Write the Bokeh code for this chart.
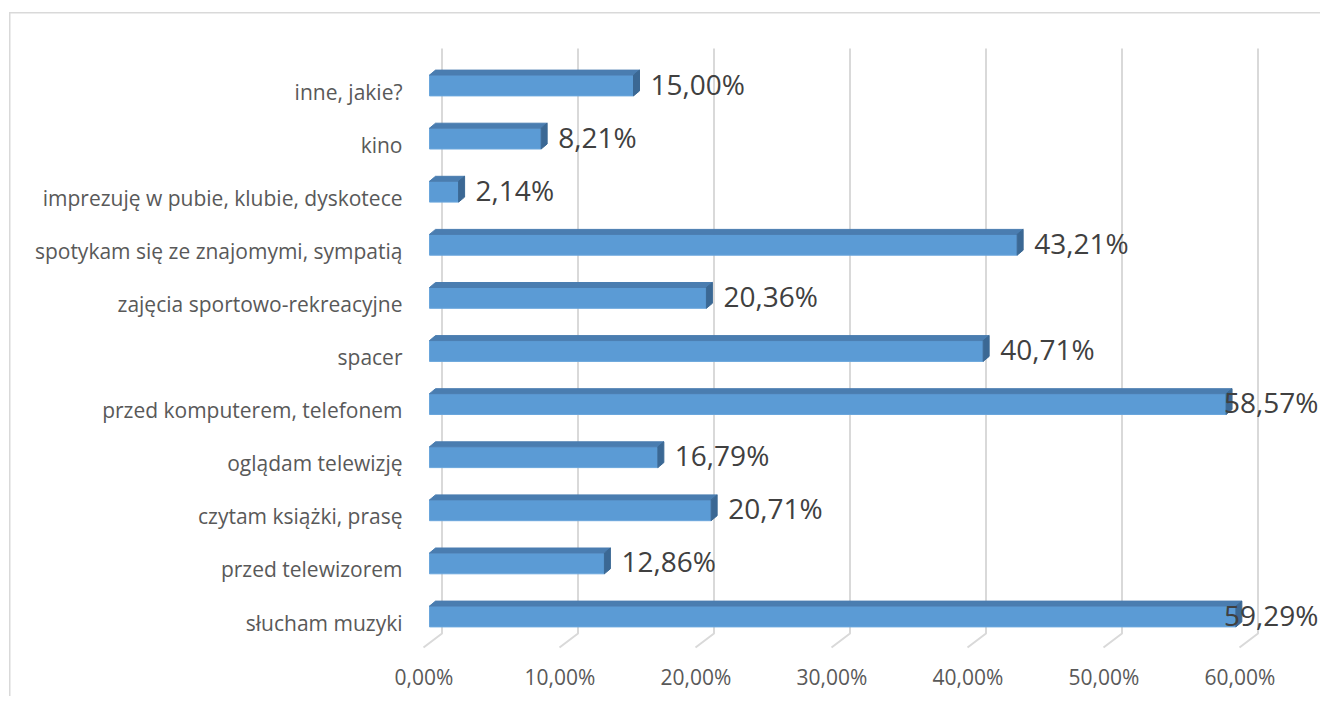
from bokeh.plotting import figure
from bokeh.models import FixedTicker, Range1d, ColumnDataSource
from bokeh.core.properties import value
from bokeh.embed import file_html
from bokeh.resources import INLINE

# ---- data -------------------------------------------------------------
categories = [
    "słucham muzyki",
    "przed telewizorem",
    "czytam książki, prasę",
    "oglądam telewizję",
    "przed komputerem, telefonem",
    "spacer",
    "zajęcia sportowo-rekreacyjne",
    "spotykam się ze znajomymi, sympatią",
    "imprezuję w pubie, klubie, dyskotece",
    "kino",
    "inne, jakie?",
]
values = [59.29, 12.86, 20.71, 16.79, 58.57, 40.71, 20.36, 43.21, 2.14, 8.21, 15.00]
value_labels = ["59,29%", "12,86%", "20,71%", "16,79%", "58,57%", "40,71%",
                "20,36%", "43,21%", "2,14%", "8,21%", "15,00%"]
x_ticks = [0, 10, 20, 30, 40, 50, 60]
x_tick_labels = ["0,00%", "10,00%", "20,00%", "30,00%", "40,00%", "50,00%", "60,00%"]

# ---- layout constants (canvas pixels) -----------------------------------
W, H = 1320, 696
FL, FR, FT, FB = 415, 1320, 20, 650          # frame edges
PX_PER_X = 13.6                              # px per percent
PX_PER_Y = 53.1                              # px per category
X_ORIGIN = 423.5                             # px of x = 0 (tick label centre)
Y_ORIGIN = 622.0                             # px of y = 0 (category label)

x_start = (FL - X_ORIGIN) / PX_PER_X
x_end = (FR - X_ORIGIN) / PX_PER_X
y_start = (Y_ORIGIN - FB) / PX_PER_Y
y_end = (Y_ORIGIN - FT) / PX_PER_Y


def dx(px):
    return px / PX_PER_X


def dy(px):
    return px / PX_PER_Y


def ypx(py):
    """canvas y pixel -> data y"""
    return (Y_ORIGIN - py) / PX_PER_Y


p = figure(width=W, height=H, output_backend="svg", toolbar_location=None,
           x_range=Range1d(x_start, x_end), y_range=Range1d(y_start, y_end),
           min_border_left=FL, min_border_right=W - FR,
           min_border_top=FT, min_border_bottom=H - FB)
p.outline_line_color = None
p.xgrid.visible = False
p.ygrid.visible = False
p.background_fill_color = None
p.border_fill_color = None
# chart-area border: only its left and top edges fall inside the window
p.styles = {
    "background": "linear-gradient(#d9d9d9, #d9d9d9) 9px 12px / 1.5px 100% no-repeat, "
                  "linear-gradient(#d9d9d9, #d9d9d9) 9px 12px / 100% 1.5px no-repeat, "
                  "#ffffff"
}

# ---- 3D gridlines (back wall + floor diagonals) ------------------------
GRID_BACK = dx(18)
GRID_FRONT = dx(-0.5)
gx, gy = [], []
for t in x_ticks:
    gx.append([t + GRID_BACK, t + GRID_BACK, t + GRID_FRONT])
    gy.append([ypx(48), ypx(633), ypx(647)])
p.multi_line(gx, gy, line_color="#d9d9d9", line_width=2)

# ---- 3D bars ------------------------------------------------------------
BAR_X0 = dx(5.5)          # front face starts 5.5px right of x=0 label centre
BAR_YOFF = dy(6)          # bar centre sits 6px above category label
BAR_HH = dy(10.4)
DEPTH_X, DEPTH_Y = dx(6), dy(5)

front = dict(left=[], right=[], bottom=[], top=[])
top_xs, top_ys, side_xs, side_ys = [], [], [], []
lab_x, lab_y, lab_t, lab_al = [], [], [], []
for i, (v, t) in enumerate(zip(values, value_labels)):
    x0 = BAR_X0
    x1 = v + BAR_X0
    yc = i + BAR_YOFF
    b, tp = yc - BAR_HH, yc + BAR_HH
    front["left"].append(x0)
    front["right"].append(x1)
    front["bottom"].append(b)
    front["top"].append(tp)
    top_xs.append([x0, x0 + DEPTH_X, x1 + DEPTH_X, x1])
    top_ys.append([tp, tp + DEPTH_Y, tp + DEPTH_Y, tp])
    side_xs.append([x1, x1 + DEPTH_X, x1 + DEPTH_X, x1])
    side_ys.append([tp, tp + DEPTH_Y, b + DEPTH_Y, b])
    end_px = X_ORIGIN + x1 * PX_PER_X
    if end_px + 17 + 96 > FR - 2:
        lab_x.append(dx(FR - 2 - X_ORIGIN))
        lab_al.append("right")
    else:
        lab_x.append(x1 + dx(17))
        lab_al.append("left")
    lab_y.append(yc + dy(2))
    lab_t.append(t)

p.quad(source=ColumnDataSource(front), left="left", right="right", bottom="bottom",
       top="top", fill_color="#5b9bd5", line_color="#6aa6dc", line_width=1)
p.patches(top_xs, top_ys, fill_color="#4a7db0", line_color="#4a7db0", line_width=1)
p.patches(side_xs, side_ys, fill_color="#3b6894", line_color="#3b6894", line_width=1)

src = ColumnDataSource(dict(x=lab_x, y=lab_y, t=lab_t, al=lab_al))
p.text(x="x", y="y", text="t", source=src, text_align="al", text_baseline="middle",
       text_font=value("Open Sans"), text_font_size="28px", text_color="#404040")

# ---- axes ---------------------------------------------------------------
p.yaxis.ticker = FixedTicker(ticks=list(range(len(categories))))
p.yaxis.major_label_overrides = {i: c for i, c in enumerate(categories)}
p.yaxis.axis_line_color = None
p.yaxis.major_tick_line_color = None
p.yaxis.minor_tick_line_color = None
p.yaxis.major_label_standoff = 7
p.yaxis.major_label_text_font = "Open Sans"
p.yaxis.major_label_text_font_size = "21px"
p.yaxis.major_label_text_color = "#595959"

p.xaxis.ticker = FixedTicker(ticks=x_ticks)
p.xaxis.major_label_overrides = {t: l for t, l in zip(x_ticks, x_tick_labels)}
p.xaxis.axis_line_color = None
p.xaxis.major_tick_line_color = None
p.xaxis.minor_tick_line_color = None
p.xaxis.major_label_standoff = 6
p.xaxis.major_label_text_font = "Open Sans"
p.xaxis.major_label_text_font_size = "21px"
p.xaxis.major_label_text_color = "#595959"

open("out.html", "w").write(file_html(p, INLINE))
